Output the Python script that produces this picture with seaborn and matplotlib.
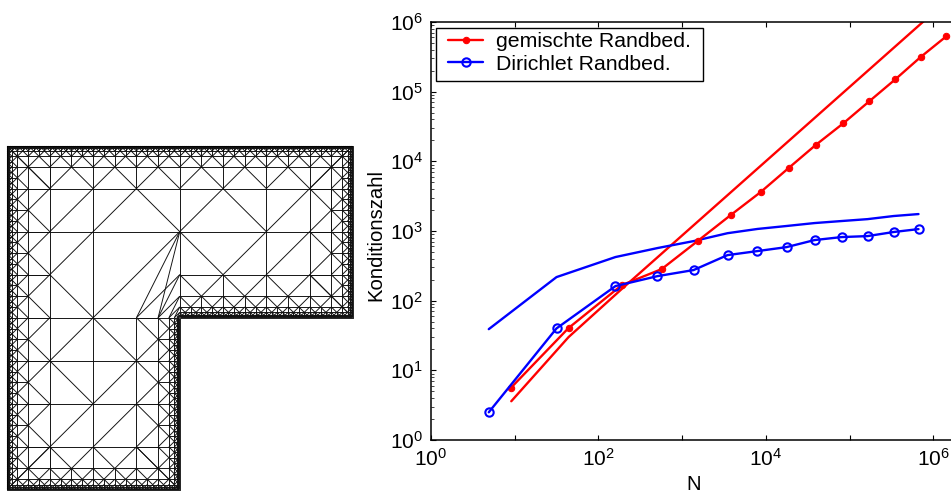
import matplotlib
matplotlib.use("Agg")
import matplotlib.pyplot as plt
from matplotlib.collections import LineCollection
from matplotlib.patches import Rectangle
from matplotlib.ticker import FixedLocator, FixedFormatter, NullFormatter
import pandas as pd
import seaborn as sns

# Convergence data
mixed_n = [9, 44, 190, 570, 1530, 3800, 8650, 18700, 39300, 84700, 173000, 354000, 705000, 1440000]
mixed_k = [5.6, 40.5, 167, 284, 716, 1690, 3610, 8000, 17100, 35300, 73100, 151000, 313000, 626000]
mixed_ref_n = [9.1, 44, 190, 1440000]
mixed_ref_k = [3.6, 30, 147, 2000000]
diri_n = [4.9, 31.6, 160, 508, 1370, 3490, 7950, 17700, 38200, 80300, 164000, 336000, 667000]
diri_k = [2.5, 40, 162, 225, 275, 451, 515, 587, 741, 818, 845, 967, 1065]
diri_ref_k = [39, 218, 423, 569, 716, 930, 1070, 1180, 1300, 1390, 1480, 1640, 1750]
legend_labels = ["gemischte Randbed.", "Dirichlet Randbed."]
x_ticks = [1, 10, 100, 1000, 10000, 100000, 1000000]
x_tick_labels = [r"$\mathregular{10^{0}}$", "", r"$\mathregular{10^{2}}$", "", r"$\mathregular{10^{4}}$", "", r"$\mathregular{10^{6}}$"]
y_ticks = [1, 10, 100, 1000, 10000, 100000, 1000000]
y_tick_labels = [r"$\mathregular{10^{%d}}$" % i for i in range(7)]

# Mesh description, in coarse cell units
mesh_levels = [1, 1/2, 1/4, 1/8, 1/16, 1/32]
mesh_diagonals = [
    ((2,1),(1,2)), ((3,1),(2,2)), ((2,2),(1,3)), ((3,1),(4,2)), ((4,2),(2,4)), ((1,3),(2,4)),
    ((4,2),(5,1)), ((5,1),(6,2)), ((6,2),(7,1)), ((4,2),(5,3)), ((5,3),(6,2)), ((7,2),(6,3)),
    ((2,4),(1,5)), ((2,4),(3,5)), ((1,5),(2,6)), ((3,5),(2,6)), ((2,6),(1,7)), ((3,6),(2,7)),
    ((4,2),(3,4)), ((4,2),(3.5,4)),
]
mesh_straights = [
    ((.5,1),(7.5,1)), ((.5,2),(7.5,2)), ((.5,3),(1,3)), ((4,3),(7.5,3)), ((.5,4),(3.5,4)),
    ((.5,5),(3.5,5)), ((.5,6),(3.5,6)), ((.5,7),(3.5,7)),
    ((1,.5),(1,7.5)), ((2,1),(2,7)), ((3,4),(3,7)), ((4,1),(4,3)), ((6,1),(6,3)), ((7,1),(7,3)),
    ((7.5,1),(7.5,3)),
]
mesh_outline = [(0,0),(8,0),(8,4),(4,4),(4,8),(0,8),(0,0)]
mesh_edges = [
    (0, True, 1, 0, 8, True),
    (8, False, -1, 0, 4, True),
    (4, True, -1, 4, 8, False),
    (4, False, -1, 4, 8, False),
    (8, True, -1, 0, 4, True),
    (0, False, 1, 0, 8, True),
]


def mesh_segments():
    segs = list(mesh_diagonals) + list(mesh_straights)
    for fixed, horiz, sign, a, b, trim_a in mesh_edges:
        def pt(t, dist, fixed=fixed, horiz=horiz, sign=sign):
            return (t, fixed + sign * dist) if horiz else (fixed + sign * dist, t)
        for d in mesh_levels:
            lo = a + d if trim_a else a
            hi = b - d
            n = int(round((hi - lo) / d))
            first = a + (d / 2 if trim_a else 0)
            last = b - d / 2
            for i in range(n + 1):
                t = lo + i * d
                segs.append((pt(t, d), pt(t, d / 2)))
                if t - d / 2 >= first:
                    segs.append((pt(t, d), pt(t - d / 2, d / 2)))
                if t + d / 2 <= last:
                    segs.append((pt(t, d), pt(t + d / 2, d / 2)))
            segs.append((pt(first, d / 2), pt(last, d / 2)))
    for d in mesh_levels:
        segs.append(((4, 4 - d), (4 - d, 4)))
        segs.append(((4, 4 - d), (4 - d / 2, 4)))
    return segs


W, H = 951, 493
sns.set_theme(style="white")
plt.rcParams["font.family"] = ["Liberation Sans", "DejaVu Sans"]
plt.rcParams["mathtext.default"] = "regular"
plt.rcParams["mathtext.fontset"] = "custom"
plt.rcParams["mathtext.rm"] = "Liberation Sans"
fig = plt.figure(figsize=(W / 100, H / 100), dpi=100, facecolor="white")


def rect(x0, y_top, x1, y_bot):
    return [x0 / W, 1 - y_bot / H, (x1 - x0) / W, (y_bot - y_top) / H]


# Mesh panel
mx = fig.add_axes(rect(6.5, 145.5, 353, 490))
mx.set_xlim(0, 8)
mx.set_ylim(8, 0)
mx.axis("off")
mx.add_collection(LineCollection(mesh_segments(), colors="#111111", linewidths=0.68, clip_on=False))
ox, oy = zip(*mesh_outline)
mx.plot(ox, oy, color="black", lw=0.6, clip_on=False)

# Condition number panel
ax = fig.add_axes(rect(431, 22, 958, 440))
frames = pd.DataFrame({"N": mixed_n, "k": mixed_k})
red, blue = "#ff0000", "#0000ff"
lw = 1.7
sns.lineplot(x=mixed_ref_n, y=mixed_ref_k, ax=ax, color=red, lw=lw, estimator=None, sort=False)
sns.lineplot(x=diri_n, y=diri_ref_k, ax=ax, color=blue, lw=lw, estimator=None, sort=False)
sns.lineplot(data=frames, x="N", y="k", ax=ax, color=red, lw=lw, marker="o", ms=4.6, mec=red, mfc=red,
             estimator=None, sort=False, label=legend_labels[0])
sns.lineplot(x=diri_n, y=diri_k, ax=ax, color=blue, lw=lw, marker="o", ms=6, mec=blue, mfc="none", mew=1.5,
             estimator=None, sort=False, label=legend_labels[1])
ax.set_xscale("log")
ax.set_yscale("log")
ax.set_xlim(1, 10 ** 6.296)
ax.set_ylim(1, 1e6)
for side in ("left", "bottom", "top", "right"):
    ax.spines[side].set_visible(True)
    ax.spines[side].set_color("black")
    ax.spines[side].set_linewidth(1.1)
ax.xaxis.set_major_locator(FixedLocator(x_ticks))
ax.xaxis.set_major_formatter(FixedFormatter(x_tick_labels))
ax.xaxis.set_minor_locator(FixedLocator([]))
ax.yaxis.set_major_locator(FixedLocator(y_ticks))
ax.yaxis.set_major_formatter(FixedFormatter(y_tick_labels))
ax.yaxis.set_minor_locator(FixedLocator([m * 10 ** e for e in range(6) for m in range(2, 10)]))
ax.yaxis.set_minor_formatter(NullFormatter())
ax.tick_params(which="major", direction="in", length=3.5, width=0.8, top=True, right=True, bottom=True, left=True,
               labelsize=15, colors="black", pad=6)
ax.tick_params(which="minor", direction="in", length=2, width=0.6, left=True, right=True)
ax.set_xlabel("N", fontsize=14.6, color="black")
ax.xaxis.set_label_coords((694 - 431) / 527, -0.083)
ax.set_ylabel("Konditionszahl", fontsize=14.6, color="black")
ax.yaxis.set_label_coords(-0.087, 0.49)
ax.add_patch(Rectangle((436 / W, 1 - 81 / H), 267 / W, 53 / H, transform=fig.transFigure, facecolor="white",
                       edgecolor="black", linewidth=1.0, zorder=4))
leg = ax.legend(loc="upper left", bbox_to_anchor=((448 - 431) / 527, (440 - 32) / 418), borderaxespad=0,
                frameon=False, fontsize=15.3, borderpad=0,
                labelspacing=0.17, handlelength=1.65, handletextpad=0.6)
for t in leg.get_texts():
    t.set_color("black")
fig.savefig("out.png", dpi=100, facecolor="white")
